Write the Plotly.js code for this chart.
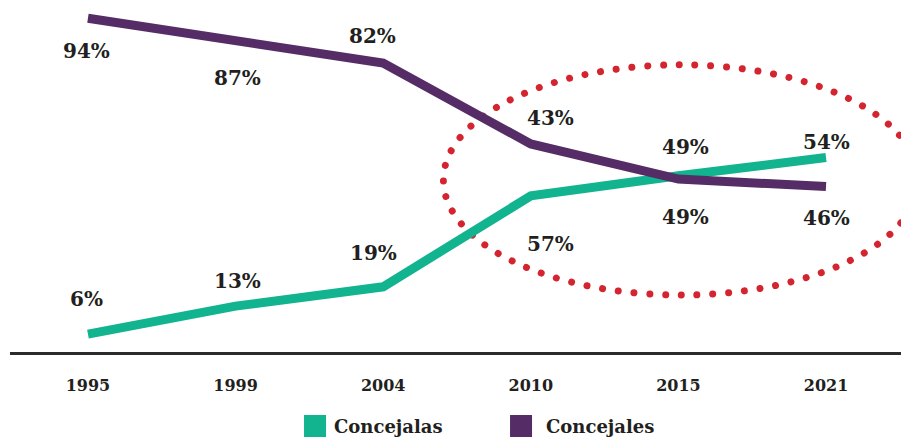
<!DOCTYPE html>
<html><head><meta charset="utf-8">
<script src="https://cdn.plot.ly/plotly-3.0.1.min.js"></script>
<style>html,body{margin:0;padding:0;background:#fff}#chart{width:901px;height:441px}</style>
</head><body><div id="chart"></div>
<script>
// ---- data ----
const years = ['1995','1999','2004','2010','2015','2021'];
const concejalas = [5, 12.8, 18.2, 43.6, 49.2, 54.3];
const concejales = [93.2, 87, 80.7, 58.1, 48.3, 46.2];
const concejalasLabels = ['6%','13%','19%','57%','49%','54%'];
const concejalesLabels = ['94%','87%','82%','43%','49%','46%'];
const seriesNames = ['Concejalas','Concejales'];

// ---- styling ----
const GREEN = '#12b38f', PURPLE = '#562c66', RED = '#d4242f', TXT = '#231f20';
const FONT = 'DejaVu Serif, serif';
const greenShift = {x:[-1,2,-10,20,7,0], y:[35,25,34,-48,-41,16]};
const purpleShift = {x:[-1,2,-11,20,7,0], y:[-33,-38,27,26,32,-31]};

const traces = [
  {x: years, y: concejalas, type:'scatter', mode:'lines', name: seriesNames[0],
   line:{color:GREEN, width:9}, showlegend:false},
  {x: years, y: concejales, type:'scatter', mode:'lines', name: seriesNames[1],
   line:{color:PURPLE, width:9}, showlegend:false}
];

const annotations = [];
function addLabels(vals, labels, shift){
  vals.forEach((v,i)=>{
    annotations.push({x: i, y: v, xref:'x', yref:'y', text:'<b>'+labels[i]+'</b>',
      showarrow:false, xanchor:'center', yanchor:'middle', xshift: shift.x[i], yshift: shift.y[i],
      font:{family:FONT, size:20, color:TXT}});
  });
}
addLabels(concejalas, concejalasLabels, greenShift);
addLabels(concejales, concejalesLabels, purpleShift);

// legend (manual, square swatches)
const legendItems = [
  {name: seriesNames[0], color: GREEN, sx0:0.330, sx1:0.3547, tx:0.3615},
  {name: seriesNames[1], color: PURPLE, sx0:0.5612, sx1:0.5859, tx:0.5995}
];
const shapes = [
  {type:'circle', xref:'x', yref:'y', x0:2.408, x1:5.624, y0:15.9, y1:80.2,
   line:{color:RED, width:7, dash:'dot'}, fillcolor:'rgba(0,0,0,0)', layer:'below'}
];
legendItems.forEach(it=>{
  shapes.push({type:'rect', xref:'paper', yref:'paper', x0:it.sx0, x1:it.sx1, y0:-0.179, y1:-0.2415,
    fillcolor:it.color, line:{width:0}});
  annotations.push({xref:'paper', yref:'paper', x:it.tx, y:-0.213, xanchor:'left', yanchor:'middle',
    text:'<b>'+it.name+'</b>', showarrow:false, font:{family:FONT, size:18, color:TXT}});
});

const layout = {
  width:901, height:441,
  margin:{l:10, r:0, t:0, b:89},
  paper_bgcolor:'#fff', plot_bgcolor:'#fff',
  showlegend:false,
  xaxis:{type:'category', range:[-0.528, 5.508], showgrid:false, zeroline:false,
    showline:true, linecolor:'#2b2b2b', linewidth:3, ticks:'outside', ticklen:0,
    ticklabelstandoff:17, tickfont:{family:FONT, size:16, color:TXT, weight:'bold'}, fixedrange:true},
  yaxis:{range:[0, 98.3], showgrid:false, zeroline:false, showline:false, showticklabels:false, fixedrange:true},
  shapes: shapes,
  annotations: annotations,
  hovermode:false
};

Plotly.newPlot('chart', traces, layout, {staticPlot:true, displayModeBar:false}).then(()=>{
  document.querySelectorAll('.shapelayer path').forEach(p=>{
    const s = p.getAttribute('style') || '';
    if (s.indexOf('dasharray') >= 0 && s.indexOf('stroke-width: 7') >= 0) {
      p.style.strokeDasharray = '0.01px,15.8px';
      p.style.strokeLinecap = 'round';
    }
  });
});
</script></body></html>
